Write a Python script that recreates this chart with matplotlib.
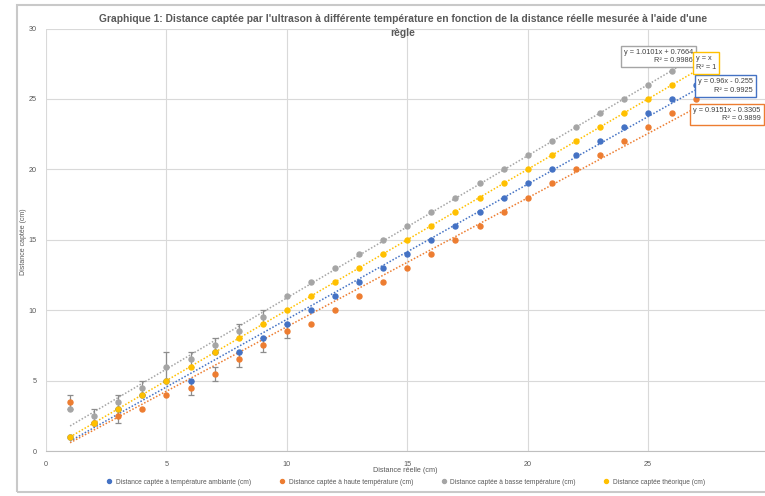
import matplotlib.pyplot as plt
import numpy as np
from matplotlib.patches import Rectangle

plt.rcParams['font.family'] = ['Liberation Sans', 'DejaVu Sans']

# Distance réelle (cm)
x = np.arange(1, 28)

# measured distances for each temperature
ambiante = [1, 2, 3, 4, 5, 5, 7, 7, 8, 9, 10, 11, 12, 13, 14, 15, 16, 17, 18,
            19, 20, 21, 22, 23, 24, 25, 26]
haute = [3.5, 2, 2.5, 3, 4, 4.5, 5.5, 6.5, 7.5, 8.5, 9, 10, 11, 12, 13, 14, 15,
         16, 17, 18, 19, 20, 21, 22, 23, 24, 25]
basse = [3, 2.5, 3.5, 4.5, 6, 6.5, 7.5, 8.5, 9.5, 11, 12, 13, 14, 15, 16, 17,
         18, 19, 20, 21, 22, 23, 24, 25, 26, 27, 28]
theorique = list(range(1, 28))

# error bars (cm)
err_haute = [0.5, 0, 0.5, 0, 0, 0.5, 0.5, 0.5, 0.5, 0.5] + [0] * 17
err_basse = [0, 0.5, 0.5, 0.5, 1, 0.5, 0.5, 0.5, 0.5] + [0] * 18

# trendlines shown by the spreadsheet
slopes = [0.96, 0.9151, 1.0101, 1.0]
intercepts = [-0.255, -0.3305, 0.7664, 0.0]
eq_labels = ["y = 0.96x - 0.255\nR² = 0.9925",
             "y = 0.9151x - 0.3305\nR² = 0.9899",
             "y = 1.0101x + 0.7664\nR² = 0.9986",
             "y = x\nR² = 1"]

names = ["Distance captée à température ambiante (cm)",
         "Distance captée à haute température (cm)",
         "Distance captée à basse température (cm)",
         "Distance captée théorique (cm)"]
colors = ["#4472C4", "#ED7D31", "#A5A5A5", "#FFC000"]

fig = plt.figure(figsize=(7.65, 4.96), dpi=100)
fig.patches.append(Rectangle((17 / 765, 1 - 492 / 496), 0.99, 487 / 496,
                             transform=fig.transFigure, facecolor='none',
                             edgecolor='#c9c9c9', linewidth=1.5))
ax = fig.add_axes([46 / 765, 1 - 451 / 496, 722.5 / 765, 422.5 / 496])

series = [ambiante, haute, basse, theorique]
xs_line = np.array([x[0], x[-1]])
for ys, c, m, b in zip(series, colors, slopes, intercepts):
    ax.plot(xs_line, m * xs_line + b, linestyle=(0, (1, 1.2)), color=c,
            linewidth=1.1, zorder=2)

# error bars only where a value was given
for ys, err in [(haute, err_haute), (basse, err_basse)]:
    ys = np.array(ys)
    err = np.array(err)
    keep = err > 0
    ax.errorbar(x[keep], ys[keep], yerr=err[keep], fmt='none',
                ecolor='#8c8c8c', elinewidth=0.9, capsize=2.2, capthick=0.9,
                zorder=3)

handles = []
for ys, c, name in zip(series, colors, names):
    h, = ax.plot(x, ys, 'o', color=c, markersize=3.6, label=name, zorder=4)
    handles.append(h)

ax.set_xlim(0, 30)
ax.set_ylim(0, 30)
ax.set_xticks([0, 5, 10, 15, 20, 25])
ax.set_yticks([0, 5, 10, 15, 20, 25, 30])
ax.grid(True, color='#d9d9d9', linewidth=0.8)
ax.set_axisbelow(True)
for side in ['top', 'right', 'left']:
    ax.spines[side].set_visible(False)
ax.spines['bottom'].set_color('#bfbfbf')
ax.tick_params(length=0, labelsize=5.2, labelcolor='#595959')
ax.tick_params(axis='x', pad=7)
ax.tick_params(axis='y', pad=7)

# equation boxes (placed like in the sheet, in pixel positions of the figure)
box_pos = [(725.5, 86), (727, 114.5), (658.5, 56.5), (695.5, 63)]
aligns = ['right', 'right', 'right', 'left']
for (px, py), c, txt, al in zip(box_pos, colors, eq_labels, aligns):
    fig.text(px / 765, 1 - py / 496, txt, fontsize=5.3, color='#404040',
             ha='center' if al == 'right' else 'left', va='center',
             multialignment=al, linespacing=1.3,
             bbox=dict(boxstyle='square,pad=0.4', facecolor='white',
                       edgecolor=c, linewidth=1))

fig.text(403 / 765, 1 - 26 / 496,
         "Graphique 1: Distance captée par l'ultrason à différente température "
         "en fonction de la distance réelle mesurée à l'aide d'une\nrègle",
         ha='center', va='center', fontsize=7.35, fontweight='bold',
         color='#595959', linespacing=1.6)
fig.text(405 / 765, 1 - 471 / 496, "Distance réelle (cm)", ha='center',
         va='center', fontsize=5.2, color='#595959')
fig.text(23.5 / 765, 1 - 242 / 496, "Distance captée (cm)", ha='center',
         va='center', rotation=90, fontsize=5.0, color='#595959')

fig.legend(handles=handles, loc='center', bbox_to_anchor=(404 / 765, 1 - 482 / 496),
           ncol=4, frameon=False, fontsize=4.8, handletextpad=0.0,
           columnspacing=3.6, markerscale=0.8, labelcolor='#595959')

plt.savefig("out.png", dpi=100)
